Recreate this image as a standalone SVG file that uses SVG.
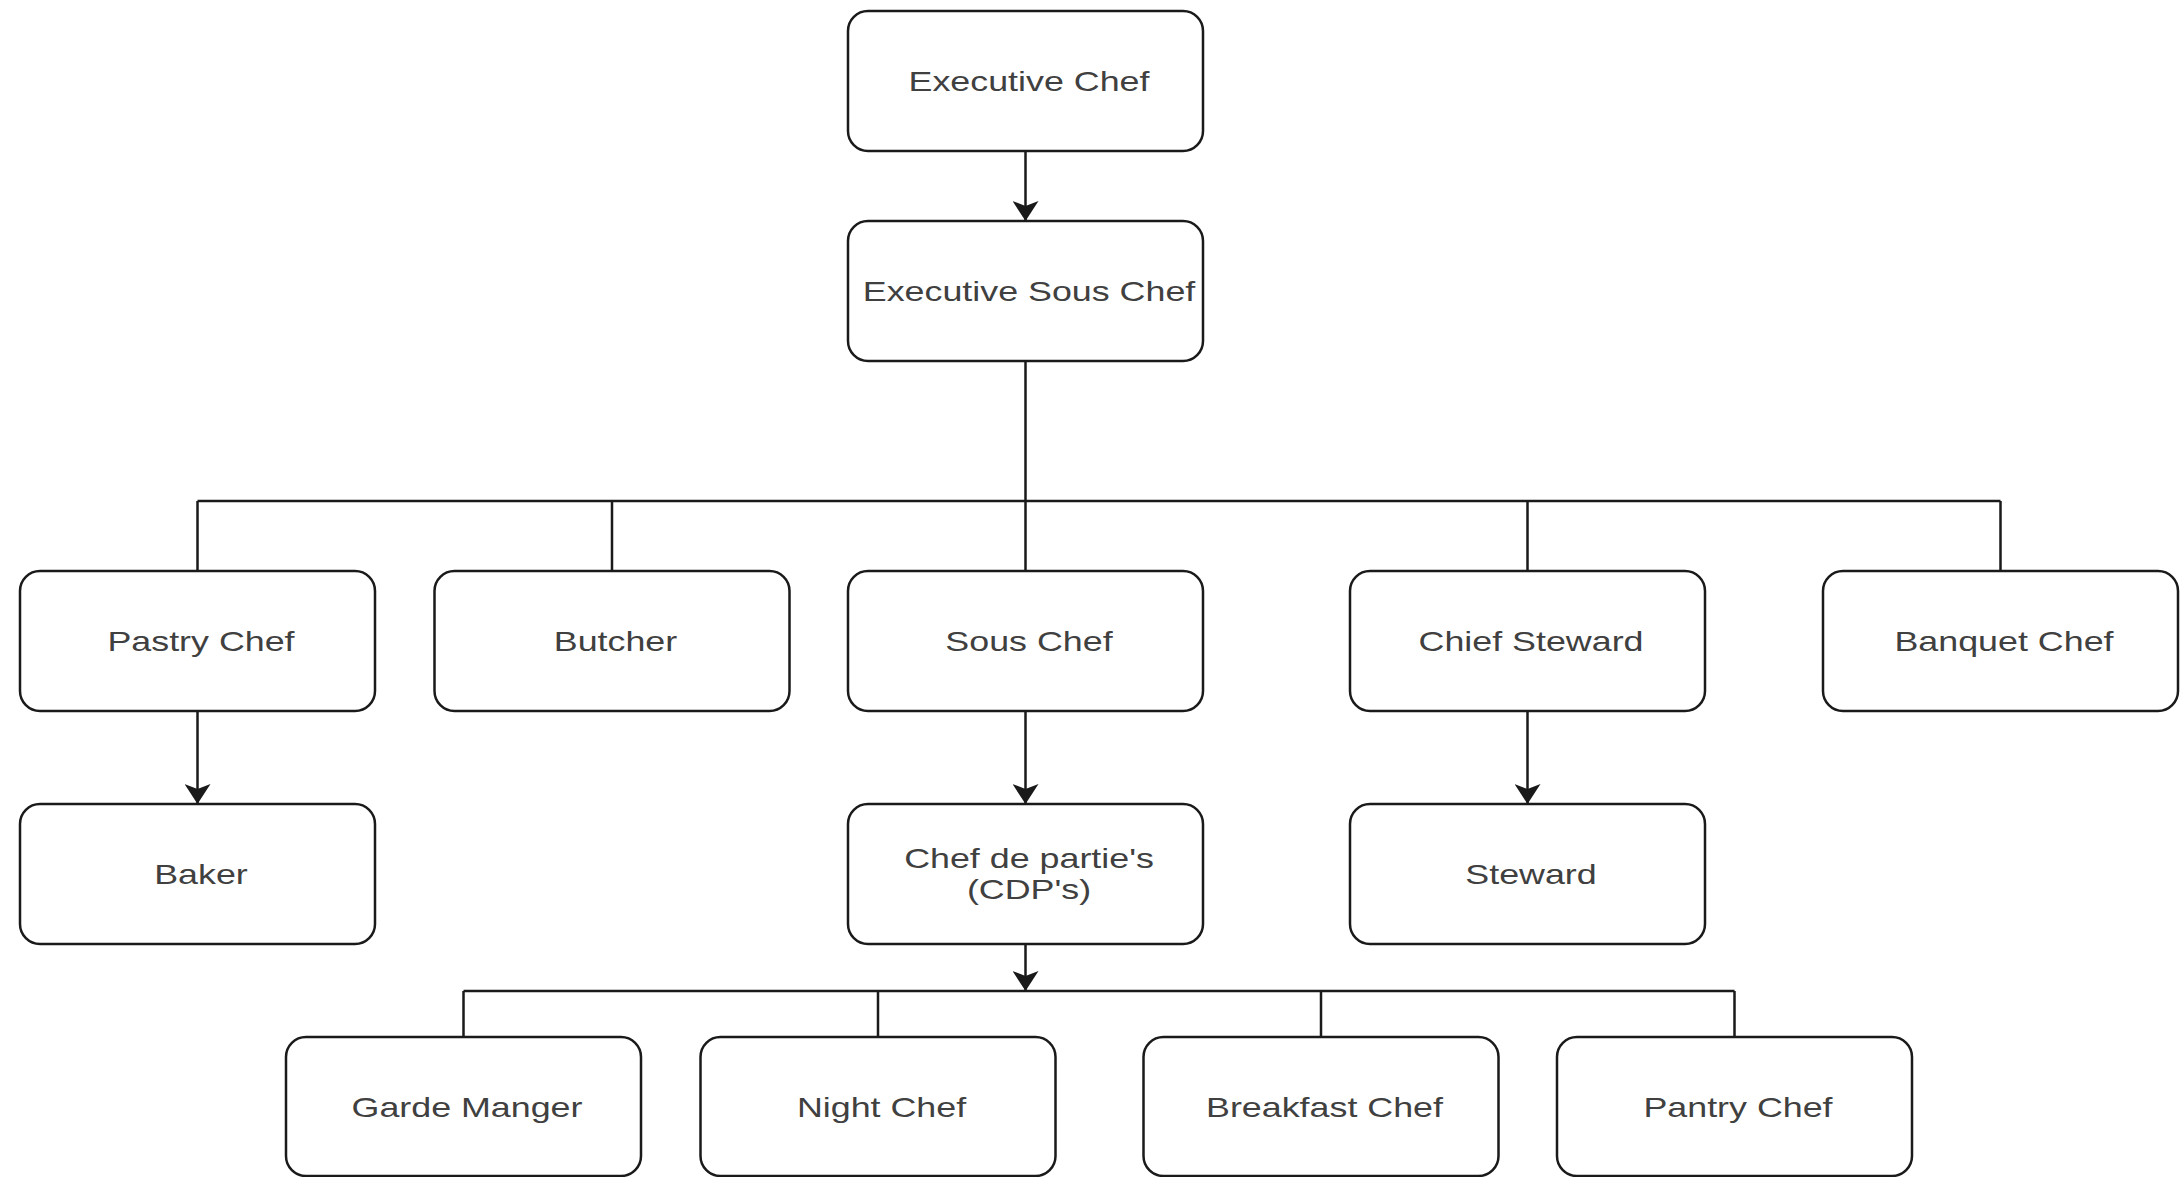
<svg xmlns="http://www.w3.org/2000/svg" width="2180" height="1177" viewBox="0 0 2180 1177">
  <style>
    .box { fill: #ffffff; stroke: #1a1a1a; stroke-width: 2.5; }
    .lbl { font-family: "Liberation Sans", Arial, sans-serif; font-size: 28px; fill: #404040; text-anchor: middle; }
    .edge { fill: none; stroke: #1a1a1a; stroke-width: 2.5; }
  </style>
  <defs>
    <marker id="arrow" markerUnits="userSpaceOnUse" viewBox="0 0 20 26" refX="20" refY="13" markerWidth="20" markerHeight="26" orient="auto">
      <path d="M0,0 L20,13 L0,26 L5,13 Z" fill="#1a1a1a"/>
    </marker>
  </defs>
  <rect width="2180" height="1177" fill="#ffffff"/>

  <g id="connectors">
    <path class="edge" d="M1025.5,151 V221" marker-end="url(#arrow)"/>
    <path class="edge" d="M1025.5,361 V501 M197.5,501 H2000.5 M197.5,501 V571 M612,501 V571 M1025.5,501 V571 M1527.5,501 V571 M2000.5,501 V571"/>
    <path class="edge" d="M197.5,711 V804" marker-end="url(#arrow)"/>
    <path class="edge" d="M1025.5,711 V804" marker-end="url(#arrow)"/>
    <path class="edge" d="M1527.5,711 V804" marker-end="url(#arrow)"/>
    <path class="edge" d="M1025.5,944 V991" marker-end="url(#arrow)"/>
    <path class="edge" d="M463.5,991 H1734.5 M463.5,991 V1037 M878,991 V1037 M1321,991 V1037 M1734.5,991 V1037"/>
  </g>

  <!-- labels are drawn wide: each one is scaled 1.28x horizontally about its centre -->
  <g id="executive-chef">
    <rect class="box" x="848" y="11" width="355" height="140" rx="20"/>
    <text class="lbl" transform="translate(1029,91) scale(1.28,1)">Executive Chef</text>
  </g>
  <g id="executive-sous-chef">
    <rect class="box" x="848" y="221" width="355" height="140" rx="20"/>
    <text class="lbl" transform="translate(1029,301) scale(1.28,1)">Executive Sous Chef</text>
  </g>

  <g id="pastry-chef">
    <rect class="box" x="20" y="571" width="355" height="140" rx="20"/>
    <text class="lbl" transform="translate(201,651) scale(1.28,1)">Pastry Chef</text>
  </g>
  <g id="butcher">
    <rect class="box" x="434.5" y="571" width="355" height="140" rx="20"/>
    <text class="lbl" transform="translate(615.5,651) scale(1.28,1)">Butcher</text>
  </g>
  <g id="sous-chef">
    <rect class="box" x="848" y="571" width="355" height="140" rx="20"/>
    <text class="lbl" transform="translate(1029,651) scale(1.28,1)">Sous Chef</text>
  </g>
  <g id="chief-steward">
    <rect class="box" x="1350" y="571" width="355" height="140" rx="20"/>
    <text class="lbl" transform="translate(1531,651) scale(1.28,1)">Chief Steward</text>
  </g>
  <g id="banquet-chef">
    <rect class="box" x="1823" y="571" width="355" height="140" rx="20"/>
    <text class="lbl" transform="translate(2004,651) scale(1.28,1)">Banquet Chef</text>
  </g>

  <g id="baker">
    <rect class="box" x="20" y="804" width="355" height="140" rx="20"/>
    <text class="lbl" transform="translate(201,884) scale(1.28,1)">Baker</text>
  </g>
  <g id="chef-de-partie">
    <rect class="box" x="848" y="804" width="355" height="140" rx="20"/>
    <text class="lbl" transform="translate(1029,868) scale(1.28,1)">Chef de partie's</text>
    <text class="lbl" transform="translate(1029,899) scale(1.28,1)">(CDP's)</text>
  </g>
  <g id="steward">
    <rect class="box" x="1350" y="804" width="355" height="140" rx="20"/>
    <text class="lbl" transform="translate(1531,884) scale(1.28,1)">Steward</text>
  </g>

  <g id="garde-manger">
    <rect class="box" x="286" y="1037" width="355" height="139" rx="20"/>
    <text class="lbl" transform="translate(467,1117) scale(1.28,1)">Garde Manger</text>
  </g>
  <g id="night-chef">
    <rect class="box" x="700.5" y="1037" width="355" height="139" rx="20"/>
    <text class="lbl" transform="translate(881.5,1117) scale(1.28,1)">Night Chef</text>
  </g>
  <g id="breakfast-chef">
    <rect class="box" x="1143.5" y="1037" width="355" height="139" rx="20"/>
    <text class="lbl" transform="translate(1324.5,1117) scale(1.28,1)">Breakfast Chef</text>
  </g>
  <g id="pantry-chef">
    <rect class="box" x="1557" y="1037" width="355" height="139" rx="20"/>
    <text class="lbl" transform="translate(1738,1117) scale(1.28,1)">Pantry Chef</text>
  </g>
</svg>
